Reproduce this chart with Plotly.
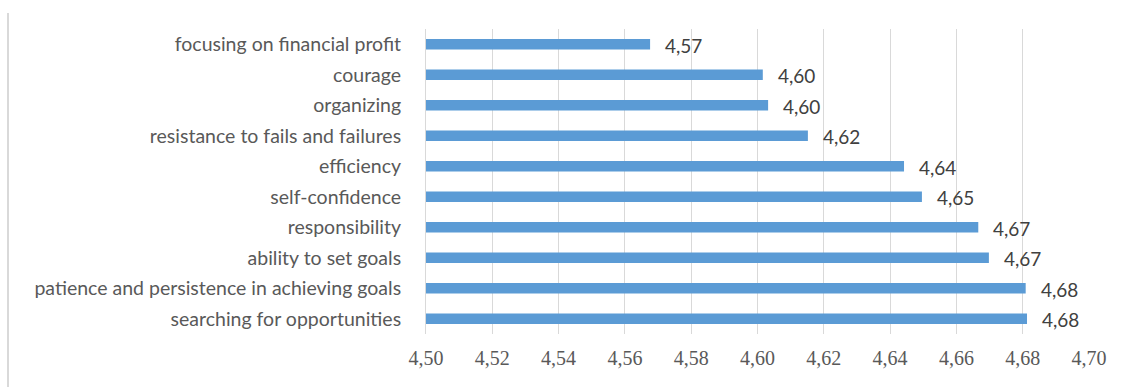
import plotly.graph_objects as go

# Mean scores of entrepreneurial traits (top to bottom)
traits = [
    "focusing on financial profit",
    "courage",
    "organizing",
    "resistance to fails and failures",
    "efficiency",
    "self-confidence",
    "responsibility",
    "ability to set goals",
    "patience and persistence in achieving goals",
    "searching for opportunities",
]
scores = [4.5676, 4.6016, 4.6032, 4.6152, 4.6442, 4.6496, 4.6666, 4.6698, 4.6809, 4.6813]

x_ticks = [4.50, 4.52, 4.54, 4.56, 4.58, 4.60, 4.62, 4.64, 4.66, 4.68, 4.70]
x_tick_text = [f"{t:.2f}".replace(".", ",") for t in x_ticks]

BAR = "#5B9BD5"
GRID = "#D9D9D9"
TXT = "#595959"
VAL = "#404040"

W, H = 1130, 387
ML, MR, MT, MB = 426, 41, 29, 53

fig = go.Figure(
    go.Bar(
        x=scores,
        y=traits,
        orientation="h",
        marker=dict(color=BAR, line=dict(width=0)),
        hoverinfo="skip",
    )
)

# value labels to the right of each bar
for t, v in zip(traits, scores):
    fig.add_annotation(
        x=v, y=t, xref="x", yref="y",
        text=f"{v:.2f}".replace(".", ","),
        showarrow=False, xanchor="left", yanchor="middle",
        xshift=13, yshift=-1,
        font=dict(family="Lato", size=19, color=VAL),
    )

# thin border on the left of the chart area
pw = W - ML - MR
ph = H - MT - MB
fig.add_shape(
    type="line", xref="paper", yref="paper",
    x0=(8 - ML) / pw, x1=(8 - ML) / pw,
    y0=(H - 387 - MB) / ph, y1=(H - 13 - MB) / ph,
    line=dict(color=GRID, width=2),
)

fig.update_layout(
    width=W, height=H,
    margin=dict(l=ML, r=MR, t=MT, b=MB, pad=0),
    paper_bgcolor="white", plot_bgcolor="white",
    bargap=0.65,
    showlegend=False,
    xaxis=dict(
        range=[4.50, 4.70],
        tickvals=x_ticks, ticktext=x_tick_text,
        showgrid=True, gridcolor=GRID, gridwidth=1,
        zeroline=False, showline=False,
        ticks="", ticklabelstandoff=10,
        tickfont=dict(family="Liberation Sans Narrow", size=20, color=TXT),
    ),
    yaxis=dict(
        autorange="reversed",
        showgrid=False, zeroline=False,
        showline=True, linecolor=GRID, linewidth=1,
        ticks="", ticklabelstandoff=20,
        tickfont=dict(family="Lato", size=19.5, color=TXT),
    ),
)

fig.write_html("out.html")
